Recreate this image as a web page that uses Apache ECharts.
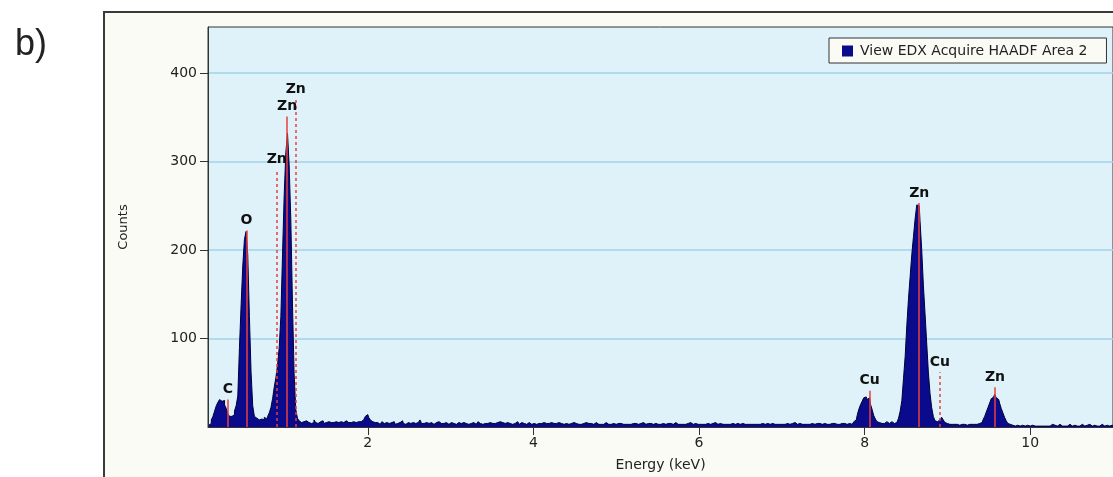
<!DOCTYPE html>
<html lang="en">
<head>
<meta charset="UTF-8">
<title>EDX spectrum</title>
<script src="https://cdn.jsdelivr.net/npm/echarts@6.0.0/dist/echarts.min.js"></script>
<style>
  html, body { margin: 0; padding: 0; background: #fff; }
  #chart { width: 1113px; height: 477px; }
</style>
</head>
<body>
<div id="chart"></div>
<script>
// channel calibration of the detector (keV)
var channelStart = 0.08;
var channelWidth = 0.02;

// counts per channel, one row = 25 channels (0.5 keV)
var counts = [
  2, 4, 8, 12, 18, 24, 28, 31, 29, 30, 25, 21, 15, 12, 12, 14, 18, 24, 35, 90, 138, 182, 212, 221, 195,   // 0.08
  125, 62, 24, 12, 10, 8, 10, 9, 8, 11, 9, 12, 16, 22, 32, 45, 56, 70, 90, 125, 195, 262, 310, 332, 296, // 0.58
  235, 140, 60, 20, 10, 7, 5, 6, 4, 7, 5, 6, 4, 5, 8, 5, 4, 6, 5, 7, 4, 5, 6, 4, 5,                     // 1.08
  5, 4, 6, 5, 4, 6, 5, 4, 7, 5, 4, 5, 6, 4, 5, 6, 5, 6, 8, 10, 12, 14, 11, 8, 6,                        // 1.58
  5, 4, 5, 3, 4, 6, 4, 5, 3, 4, 5, 4, 6, 3, 4, 5, 4, 7, 4, 3, 5, 4, 4, 5, 3,                            // 2.08
  4, 5, 3, 8, 4, 4, 5, 3, 4, 5, 4, 3, 5, 4, 6, 4, 3, 4, 5, 4, 3, 5, 6, 4, 3,                            // 2.58
  4, 5, 4, 3, 5, 4, 6, 3, 4, 4, 5, 3, 4, 6, 4, 3, 5, 4, 4, 3, 5, 4, 3, 4, 5,                            // 3.08
  4, 6, 5, 7, 4, 5, 6, 4, 3, 5, 4, 6, 4, 3, 5, 4, 4, 3, 5, 4, 3, 4, 5, 3, 4,                            // 3.58
  3, 4, 5, 3, 4, 4, 3, 5, 4, 3, 4, 5, 3, 4, 3, 5, 4, 3, 4, 4, 5, 3, 4, 3, 4,                            // 4.08
  3, 4, 3, 5, 4, 3, 4, 3, 4, 5, 3, 4, 3, 3, 4, 5, 3, 4, 3, 4, 3, 3, 4, 3, 4,                            // 4.58
  3, 4, 3, 3, 5, 3, 4, 3, 4, 3, 3, 4, 5, 3, 3, 4, 3, 4, 3, 3, 4, 3, 5, 3, 4,                            // 5.08
  3, 3, 4, 3, 4, 3, 3, 5, 3, 4, 3, 3, 4, 3, 4, 3, 5, 3, 3, 4, 3, 4, 3, 3, 4,                            // 5.58
  3, 4, 3, 3, 4, 3, 5, 3, 3, 4, 3, 4, 3, 3, 5, 3, 4, 3, 3, 4, 3, 3, 4, 5, 3,                            // 6.08
  3, 4, 3, 3, 4, 3, 3, 5, 3, 4, 3, 3, 4, 3, 3, 4, 5, 3, 3, 4, 3, 3, 4, 3, 4,                            // 6.58
  3, 3, 4, 3, 5, 3, 3, 4, 3, 4, 3, 3, 5, 3, 4, 3, 3, 4, 3, 4, 3, 3, 4, 3, 3,                            // 7.08
  3, 4, 3, 4, 3, 5, 3, 4, 3, 4, 3, 4, 4, 3, 5, 6, 8, 13, 20, 25, 29, 33, 34, 31, 33,                    // 7.58
  26, 20, 13, 9, 6, 5, 4, 5, 4, 6, 5, 4, 6, 5, 4, 5, 6, 10, 18, 30, 55, 80, 115, 145, 170,              // 8.08
  195, 215, 235, 251, 250, 232, 200, 160, 128, 95, 62, 38, 22, 12, 7, 6, 8, 10, 11, 8, 5, 4, 3, 4, 3,   // 8.58
  3, 4, 3, 2, 4, 3, 3, 4, 2, 3, 4, 3, 3, 4, 3, 4, 4, 5, 8, 12, 17, 22, 27, 32, 34,                      // 9.08
  37, 33, 31, 27, 21, 16, 11, 7, 4, 3, 2, 2, 1, 2, 1, 1, 2, 1, 1, 2, 1, 1, 2, 1, 1,                     // 9.58
  1, 2, 1, 1, 3, 1, 1, 2, 1, 3, 1, 2, 1, 1, 3, 1, 2, 1, 1, 2, 3, 1, 1, 2, 1,                            // 10.08
  2, 1, 3, 1, 1, 2, 1, 3, 1, 1, 2, 1, 2, 1, 3, 1, 1, 2, 1, 1, 2, 1, 1, 2, 1                             // 10.58
];

// element markers (red lines) and their labels
var peakNames = ['C', 'O', 'Zn', 'Zn', 'Zn', 'Cu', 'Zn', 'Cu', 'Zn'];
var peakEnergy = [0.31, 0.535, 0.90, 1.025, 1.13, 8.06, 8.66, 8.91, 9.575];
var peakHeight = [31, 222, 291, 351, 370, 41, 253, 62, 45];
var peakDashed = [false, false, true, false, true, false, false, true, false];

var xTicks = [2, 4, 6, 8, 10];
var yTicks = [100, 200, 300, 400];
var seriesName = 'View EDX Acquire HAADF Area 2';

var spectrum = counts.map(function (c, i) {
    return [+(channelStart + i * channelWidth).toFixed(2), c];
});

var markers = peakNames.map(function (n, i) {
    return [{
        name: n,
        coord: [peakEnergy[i], 0],
        lineStyle: { type: peakDashed[i] ? [3, 3] : 'solid' }
    }, {
        coord: [peakEnergy[i], peakHeight[i]]
    }];
});

var font = 'DejaVu Sans';
var chart = echarts.init(document.getElementById('chart'));

chart.setOption({
    animation: false,
    backgroundColor: '#ffffff',
    title: {
        text: 'b)',
        left: 10,
        top: 22,
        textStyle: { fontFamily: 'Liberation Sans', fontSize: 36, fontWeight: 'normal', color: '#222' }
    },
    graphic: [{
        type: 'rect',
        z: -100,
        shape: { x: 104, y: 12, width: 1100, height: 500 },
        style: { fill: '#fbfbf6', stroke: '#3a3a3a', lineWidth: 2 }
    }],
    legend: {
        data: [seriesName],
        left: 829,
        top: 38,
        icon: 'rect',
        itemWidth: 11,
        itemHeight: 11,
        itemGap: 10,
        padding: [6, 19, 5, 13],
        backgroundColor: '#fbfbf6',
        borderColor: '#333',
        borderWidth: 1,
        textStyle: { fontFamily: font, fontSize: 14, color: '#222', padding: [0, 0, 0, 2] }
    },
    grid: {
        left: 208,
        right: 0,
        top: 27,
        bottom: 49,
        show: true,
        backgroundColor: '#dff2fa',
        borderColor: '#333',
        borderWidth: 1
    },
    xAxis: {
        type: 'value',
        min: 0.07,
        max: 11,
        name: 'Energy (keV)',
        nameLocation: 'middle',
        nameGap: 31,
        nameTextStyle: { fontFamily: font, fontSize: 14, color: '#222' },
        axisLine: { lineStyle: { color: '#333' } },
        axisTick: { length: 8, customValues: xTicks, lineStyle: { color: '#333' } },
        axisLabel: { customValues: xTicks, margin: 9, fontFamily: font, fontSize: 14, color: '#222' },
        splitLine: { show: false }
    },
    yAxis: {
        type: 'value',
        min: 0,
        max: 452,
        interval: 100,
        name: 'Counts',
        nameLocation: 'middle',
        nameGap: 78,
        nameRotate: 90,
        nameTextStyle: { fontFamily: font, fontSize: 13, color: '#222' },
        axisLine: { show: true, lineStyle: { color: '#333' } },
        axisTick: { show: true, length: 8, customValues: yTicks, lineStyle: { color: '#333' } },
        axisLabel: { customValues: yTicks, margin: 11, fontFamily: font, fontSize: 14, color: '#222' },
        splitLine: { show: true, lineStyle: { color: '#9fd3e7', width: 1.5 } }
    },
    series: [{
        name: seriesName,
        type: 'line',
        step: 'middle',
        data: spectrum,
        showSymbol: false,
        sampling: 'none',
        color: '#0a0a8c',
        lineStyle: { color: '#000038', width: 1 },
        areaStyle: { color: '#0a0a8c', opacity: 1 },
        markLine: {
            silent: true,
            symbol: 'none',
            lineStyle: { color: '#e8403c', width: 1.5 },
            label: {
                show: true,
                position: 'end',
                formatter: '{b}',
                distance: 3,
                fontFamily: font,
                fontSize: 14,
                fontWeight: 'bold',
                color: '#111'
            },
            data: markers
        }
    }]
});
</script>
</body>
</html>
